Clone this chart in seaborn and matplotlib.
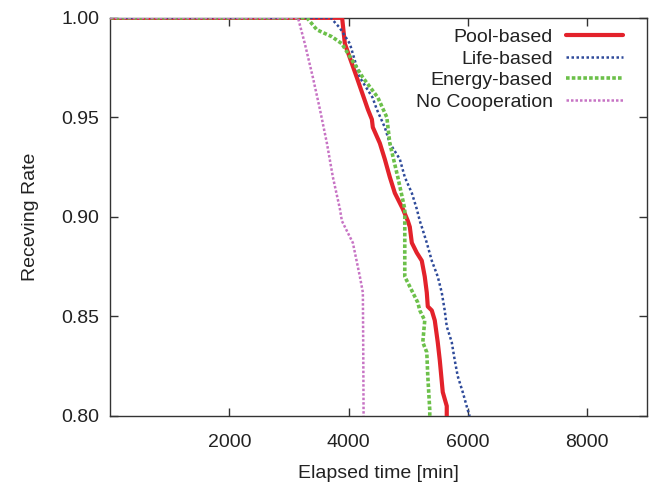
import matplotlib
matplotlib.use('Agg')
import pandas as pd
import seaborn as sns
import matplotlib.pyplot as plt

# 各曲線的資料
pool_time = [0, 3890, 3936, 4137, 4322, 4389, 4405, 4523, 4606, 4690, 4774, 4908,
             4992, 5025, 5059, 5142, 5226, 5276, 5310, 5327, 5394, 5444, 5494,
             5528, 5578, 5645, 5645]
pool_rate = [1.0, 1.0, 0.987, 0.970, 0.954, 0.949, 0.945, 0.937, 0.929, 0.920, 0.912,
             0.904, 0.898, 0.895, 0.887, 0.882, 0.878, 0.870, 0.862, 0.855, 0.853,
             0.848, 0.837, 0.828, 0.812, 0.805, 0.800]

life_time = [0, 3700, 3850, 4020, 4188, 4400, 4472, 4606, 4690, 4858, 4941, 5059,
             5142, 5193, 5226, 5310, 5394, 5494, 5561, 5611, 5645, 5729, 5779,
             5829, 5913, 5997, 6030]
life_rate = [1.0, 1.0, 0.995, 0.987, 0.970, 0.960, 0.954, 0.945, 0.937, 0.929, 0.920,
             0.912, 0.904, 0.898, 0.895, 0.887, 0.878, 0.870, 0.862, 0.853, 0.845,
             0.837, 0.828, 0.820, 0.812, 0.803, 0.800]

energy_time = [0, 3300, 3467, 3720, 3886, 4238, 4489, 4640, 4690, 4824, 4941, 4941,
               5025, 5159, 5193, 5276, 5243, 5310, 5327, 5360, 5360]
energy_rate = [1.0, 1.0, 0.994, 0.9905, 0.987, 0.970, 0.960, 0.950, 0.937, 0.920,
               0.904, 0.870, 0.865, 0.857, 0.853, 0.848, 0.837, 0.832, 0.820, 0.803,
               0.800]

nocoop_time = [0, 3150, 3265, 3400, 3518, 3635, 3735, 3853, 3886, 3936, 4070, 4188,
               4238, 4245, 4250]
nocoop_rate = [1.0, 1.0, 0.987, 0.970, 0.954, 0.937, 0.920, 0.904, 0.898, 0.895,
               0.887, 0.870, 0.862, 0.830, 0.800]

x_ticks = [2000, 4000, 6000, 8000]
y_ticks = [0.80, 0.85, 0.90, 0.95, 1.00]

sns.set_theme(style='ticks')
plt.rcParams['font.family'] = ['Liberation Sans', 'DejaVu Sans']

fig = plt.figure(figsize=(6.52, 4.82), dpi=100)
ax = fig.add_axes([0.169, 0.137, 0.823, 0.826])

series = [
    ('Pool-based', pool_time, pool_rate, '#e3222b', '-', 3.0),
    ('Life-based', life_time, life_rate, '#2e4a9a', (0, (1, 1)), 1.8),
    ('Energy-based', energy_time, energy_rate, '#6cc04a', (0, (1, 0.6)), 2.6),
    ('No Cooperation', nocoop_time, nocoop_rate, '#c773c4', (0, (1, 0.8)), 1.8),
]

for name, t, r, c, ls, lw in series:
    sns.lineplot(x=t, y=r, ax=ax, color=c, linestyle=ls, linewidth=lw,
                 label=name, estimator=None, sort=False, zorder=3)

ax.set_xlim(0, 9000)
ax.set_ylim(0.80, 1.00)
ax.set_xticks(x_ticks)
ax.set_yticks(y_ticks)
ax.set_yticklabels([f'{v:.2f}' for v in y_ticks])
ax.tick_params(direction='in', top=True, right=True, length=6, width=1,
               labelsize=14, colors='#333333', labelcolor='#222222')
ax.tick_params(axis='y', pad=8)
ax.tick_params(axis='x', pad=13)
for s in ax.spines.values():
    s.set_color('#333333')
    s.set_linewidth(1.0)

ax.set_xlabel('Elapsed time [min]', fontsize=14, color='#222222', labelpad=10)
ax.set_ylabel('Receving Rate', fontsize=14, color='#222222', labelpad=16)

leg = ax.legend(loc='upper right', bbox_to_anchor=(0.955, 0.973), frameon=False,
                markerfirst=False, fontsize=14, handlelength=2.9, handletextpad=0.7,
                labelspacing=0.2, borderpad=0, borderaxespad=0)
for txt in leg.get_texts():
    txt.set_color('#222222')

plt.savefig('out.png', dpi=100)
